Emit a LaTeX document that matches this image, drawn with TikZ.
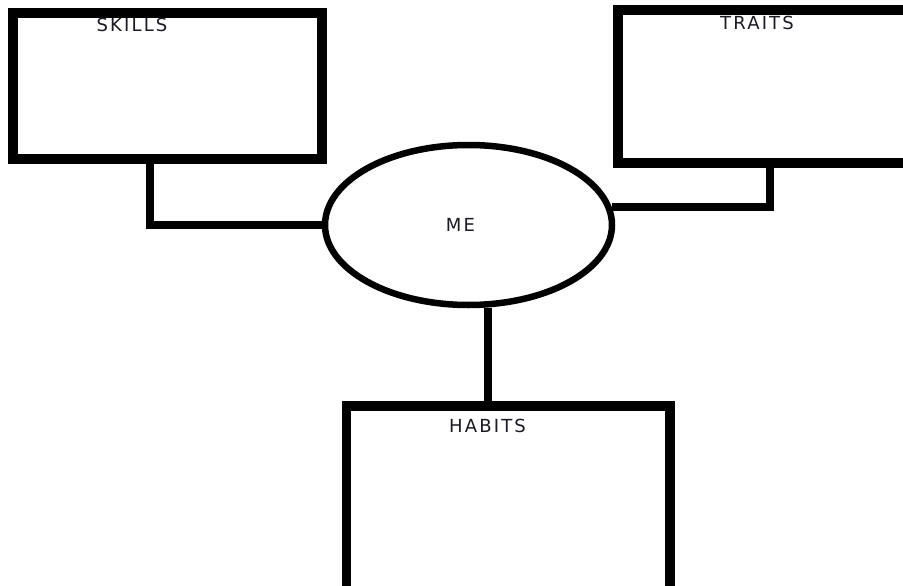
\documentclass[tikz,border=0pt]{standalone}
\usepackage{fontspec}
\setmainfont[LetterSpace=12]{DejaVu Sans}
\usetikzlibrary{shapes.geometric,positioning}
\definecolor{labelink}{HTML}{1A1A24}
\tikzset{
  basic/.style  = {draw, inner sep=0pt, rectangle},
  box/.style    = {basic, line width=9.5pt},
  self/.style   = {draw, ellipse, inner sep=0pt, line width=6.5pt,
                   minimum width=287pt, minimum height=160pt},
  tag/.style    = {font=\fontsize{18}{20}\selectfont, text=labelink, inner sep=0pt},
  link/.style   = {draw, line width=8pt}
}

\begin{document}
\begin{tikzpicture}[x=1pt,y=-1pt]
\clip (0,0) rectangle (903,586);
\fill[white] (0,0) rectangle (903,586);

% the three boxes
\node[box, minimum width=309pt, minimum height=146pt] (skills) at (167.5,86) {};
\node[box, minimum width=312pt, minimum height=153pt] (traits) at (774,86.5) {};
\node[box, minimum width=323.5pt, minimum height=194pt] (habits) at (508.25,503) {};

% the centre
\node[self] (me) at (468.5,225) {};

% box titles
\node[tag] (tskills) at (132,25) {SKILLS};
\node[tag] (ttraits) at (757,23) {TRAITS};
\node[tag] (thabits) at (487.5,426) {HABITS};
\node[tag] (tme) at (460.5,225) {ME};

% connectors
\coordinate (hab) at ([xshift=-20.25pt]habits.north);
\draw[link] ([xshift=-17.5pt]skills.south) |- (me.west);
\draw[link] ([xshift=-4.5pt]traits.south) |- (me.7);
\draw[link] (me.south -| hab) -- (hab);

\end{tikzpicture}
\end{document}
